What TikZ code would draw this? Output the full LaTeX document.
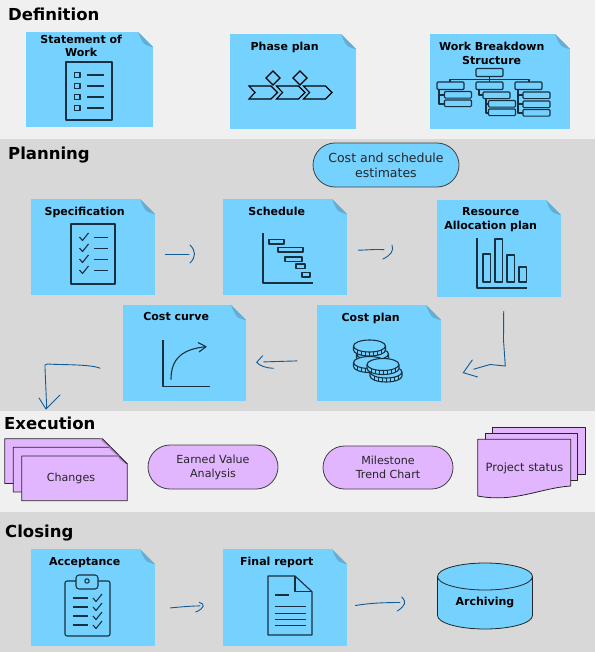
\documentclass[tikz,border=0pt]{standalone}
\usepackage{fontspec}
\setmainfont{DejaVu Sans}
\usetikzlibrary{positioning, shapes.misc, shapes.geometric}

\definecolor{bandlight}{HTML}{F0F0F0}
\definecolor{banddark}{HTML}{D8D8D8}
\definecolor{noteblue}{HTML}{75D2FF}
\definecolor{foldblue}{HTML}{62AED4}
\definecolor{pagelilac}{HTML}{E2B5FF}
\definecolor{foldlilac}{HTML}{A77FC0}
\definecolor{iconink}{HTML}{17303F}
\definecolor{penblue}{HTML}{0F5C99}

\tikzset{
    notebox/.style={
        anchor=north west,
        rectangle,
        inner sep=0pt,
        fill=noteblue,
        path picture={
            \fill[#1] ([xshift=-15pt]path picture bounding box.north east) -- (path picture bounding box.north east) -- ([yshift=-15pt]path picture bounding box.north east) -- cycle;
            \fill[foldblue] ([xshift=-15pt]path picture bounding box.north east) -- ([yshift=-15pt]path picture bounding box.north east) -- ([shift={(-4pt,-14pt)}]path picture bounding box.north east) .. controls ([shift={(-10pt,-13pt)}]path picture bounding box.north east) and ([shift={(-12pt,-8pt)}]path picture bounding box.north east) .. cycle;
        }
    },
    notebox/.default=bandlight,
    notetitle/.style={font=\bfseries\fontsize{11}{13.5}\selectfont, align=center, anchor=north, inner sep=0pt, xshift=-8.5pt, text=black},
    heading/.style={font=\bfseries\fontsize{16.5}{18}\selectfont, anchor=base west, inner sep=0pt},
    pill/.style={rounded rectangle, draw=black!75, line width=0.8pt, align=center, inner sep=0pt, font=\fontsize{11.1}{14}\selectfont, text=black!85},
    iconline/.style={draw=iconink, line width=1.1pt, line join=round},
    pagepath/.style={draw=black!85, fill=pagelilac, line width=0.8pt, line join=round},
    penline/.style={draw=penblue, line width=0.9pt, line cap=round}
}
\newcommand{\coinicon}[2]{%
  \begin{scope}[shift={(#1,#2)}]
    \fill[noteblue] (-16,0) -- (-16,4) arc[start angle=180,end angle=0,x radius=16,y radius=6] -- (16,0) -- cycle;
    \draw[iconline] (-16,0) -- (-16,4) arc[start angle=180,end angle=0,x radius=16,y radius=6] -- (16,0);
    \draw[iconline, fill=noteblue] (0,0) ellipse[x radius=16,y radius=6];
    \foreach \tx in {-12,-8,-4,0,4,8,12} {
      \pgfmathsetmacro{\ty}{6*sqrt(1-(\tx/16)*(\tx/16))}
      \draw[iconink, line width=0.7pt] (\tx,\ty) -- (\tx,\ty+4);
    }
  \end{scope}}

\begin{document}
\begin{tikzpicture}[x=1pt, y=-1pt]
    \useasboundingbox (0,0) rectangle (595,652);

    % bands
    \fill[bandlight] (0,0) rectangle (595,139);
    \fill[banddark] (0,139) rectangle (595,411);
    \fill[bandlight] (0,411) rectangle (595,512);
    \fill[banddark] (0,512) rectangle (595,652);

    \node[heading] (definition) at (8,21) {Definition};
    \node[heading] (planning) at (8,160) {Planning};
    \node[heading] (execution) at (4,429) {Execution};
    \node[heading] (closing) at (5,537) {Closing};

    % definition
    \node[notebox, minimum width=127, minimum height=95, label={[notetitle, yshift=-2.5pt]north:Statement of\\Work}] (sow) at (26,32) {};
    \node[notebox, minimum width=126, minimum height=95, label={[notetitle, yshift=-7.5pt]north:Phase plan}] (phase) at (230,34) {};
    \node[notebox, minimum width=140, minimum height=95, label={[notetitle, yshift=-8pt]north:Work Breakdown\\Structure}] (wbs) at (430,34) {};

    % planning
    \node[pill, fill=noteblue, minimum width=146, minimum height=44, font=\fontsize{12.5}{15}\selectfont] (estimates) at (386,165) {Cost and schedule\\estimates};
    \node[notebox=banddark, minimum width=124, minimum height=96, label={[notetitle, yshift=-7.5pt]north:Specification}] (spec) at (31,199) {};
    \node[notebox=banddark, minimum width=124, minimum height=96, label={[notetitle, yshift=-7.5pt]north:Schedule}] (schedule) at (223,199) {};
    \node[notebox=banddark, minimum width=124, minimum height=97, label={[notetitle, yshift=-7.5pt]north:Resource\\Allocation plan}] (resource) at (437,200) {};
    \node[notebox=banddark, minimum width=124, minimum height=96, label={[notetitle, yshift=-7.5pt]north:Cost plan}] (costplan) at (317,305) {};
    \node[notebox=banddark, minimum width=123, minimum height=96, label={[notetitle, yshift=-7.5pt]north:Cost curve}] (costcurve) at (123,305) {};

    % execution
    \foreach \px/\py in {4.7/438.7, 13.3/447.3, 21.7/456} {
        \draw[pagepath] (\px,\py) -- ++(97.6,0) -- ++(8,8) -- ++(0,36.7) -- ++(-105.6,0) -- cycle;
        \draw[foldlilac, fill=foldlilac!80, line width=0.5pt] (\px+97.6,\py) -- ++(8,8) .. controls +(-3,-0.5) and +(-6,-2) .. cycle;
        \draw[black!85, line width=0.8pt] (\px+97.6,\py) -- ++(8,8);
    }
    \node[inner sep=0pt, font=\fontsize{11.1}{13}\selectfont, text=black!85] (changes) at (71,478) {Changes};
    \node[pill, fill=pagelilac, minimum width=130, minimum height=44] (earned) at (213,467) {Earned Value\\Analysis};
    \node[pill, fill=pagelilac, minimum width=130, minimum height=43] (milestone) at (388,467.5) {Milestone\\Trend Chart};
    \draw[pagepath] (492.7,427.3) -- (585.7,427.3) -- (585.7,474.3) -- (492.7,474.3) -- cycle;
    \draw[pagepath] (485.3,433.3) -- (577.7,433.3) -- (577.7,480.7) -- (485.3,480.7) -- cycle;
    \draw[pagepath] (477.7,439.3) -- (570.7,439.3) -- (570.7,486) .. controls (540,488) and (515,503) .. (477.7,496) -- cycle;
    \node[inner sep=0pt, font=\fontsize{11.4}{13}\selectfont, text=black!85] (status) at (524.5,468) {Project status};

    % closing
    \node[notebox=banddark, minimum width=124, minimum height=97, label={[notetitle, yshift=-8pt]north:Acceptance}] (accept) at (31,549) {};
    \node[notebox=banddark, minimum width=124, minimum height=97, label={[notetitle, yshift=-8pt]north:Final report}] (report) at (223,549) {};
    \node[cylinder, anchor=shape center, shape border rotate=90, aspect=0.46, draw=black!85, line width=0.8pt, fill=noteblue, cylinder uses custom fill, cylinder body fill=noteblue, cylinder end fill=noteblue, minimum width=95, minimum height=66, inner sep=0pt, font=\bfseries\fontsize{11}{13}\selectfont] (archive) at (485,596) {\raisebox{-6pt}{Archiving}};

    % icons
    \draw[iconline] (66,62) rectangle (112,120);
    \foreach \iy in {75,86,97,108} {
        \draw[iconline] (74.5,\iy-2.7) rectangle (80,\iy+2.7);
        \draw[iconline] (87,\iy) -- (104,\iy);
    }

    \draw[draw=black, line width=1.1pt, line join=miter]
        (273,71) -- (280,78) -- (273,85) -- (266,78) -- cycle
        (300,71) -- (307,78) -- (300,85) -- (293,78) -- cycle;
    \foreach \cx in {249,276.5,303.5}
        \draw[draw=black, line width=1.1pt] (\cx,86) -- ++(22,0) -- ++(6.5,6.5) -- ++(-6.5,6.5) -- ++(-22,0) -- ++(6,-6.5) -- cycle;

    \draw[iconline, rounded corners=1pt] (476,68.5) rectangle (503,76.5);
    \draw[iconline] (489.5,76.5) -- (489.5,82) (450,82) -- (450,79.5) -- (529,79.5) -- (529,82);
    \foreach \bx in {437,476,515}
        \draw[iconline, rounded corners=1pt] (\bx,82) rectangle ++(27,7.5);
    \draw[iconline] (439,89.5) -- (439,104) -- (444.5,104) (439,95) -- (444.5,95)
        (479,89.5) -- (479,95) -- (483,95) (486,98.7) -- (486,113) -- (488.5,113) (486,104) -- (488.5,104)
        (518,89.5) -- (518,113) -- (523,113) (518,95) -- (523,95) (518,104) -- (523,104);
    \foreach \bx/\by in {444.5/91.5,444.5/100,483/92,488.5/100.5,488.5/109,523/92,523/101,523/109.5}
        \draw[iconline, rounded corners=1pt, fill=noteblue] (\bx,\by) rectangle ++(27,6.7);

    \draw[iconline] (71,224) rectangle (115,284);
    \foreach \iy in {237,248,259,270} {
        \draw[iconline] (79.5,\iy) -- (82.5,\iy+3.5) -- (88.5,\iy-4);
        \draw[iconline] (94,\iy+0.5) -- (108,\iy+0.5);
    }

    \draw[iconline] (263,233) -- (263,283) -- (313,283);
    \foreach \bx/\by/\bw in {269/239.5/15, 278/247.5/25, 285/257/17, 296/264/9, 302/272.5/8}
        \draw[iconline] (\bx,\by) rectangle ++(\bw,4.5);

    \draw[iconline] (477,238) -- (477,288) -- (527,288);
    \foreach \bx/\by in {483/254, 495/239, 507/255, 519/267}
        \draw[iconline] (\bx,\by) rectangle (\bx+7.5,282);

    \coinicon{372.5}{354}
    \coinicon{369.5}{362.5}
    \coinicon{369.5}{346}
    \coinicon{386}{372}
    \coinicon{383}{364.5}

    \draw[iconline] (163,340) -- (163,386.7) -- (210,386.7);
    \draw[iconline] (171,379.5) .. controls (171,358) and (183,349) .. (206,346.7);
    \draw[iconline] (198,342.5) -- (206,346.7) -- (199,352);

    \draw[iconline, rounded corners=2pt] (65,581) rectangle (110,636);
    \draw[iconline, rounded corners=3pt, fill=noteblue] (76,589) -- (76,575) -- (98,575) -- (98,589) -- cycle;
    \draw[iconline] (87,581) circle[radius=2.2];
    \foreach \iy in {598,607,616,625} {
        \draw[iconline] (72.5,\iy) -- (88,\iy);
        \draw[iconline] (93,\iy) -- (96,\iy+3.5) -- (102,\iy-4);
    }

    \draw[iconline] (268,576) -- (295,576) -- (312,591.7) -- (312,635) -- (268,635) -- cycle;
    \draw[iconline] (295,576) -- (295,591.7) -- (312,591.7);
    \draw[iconline] (275,595) -- (289,595);
    \foreach \iy in {606.7,613.3,619.3,625.3}
        \draw[iconline] (275,\iy) -- (306,\iy);

    % connectors
    \coordinate (specout) at ([shift={(10,7)}]spec.east);
    \coordinate (schedin) at ([shift={(-34,7)}]schedule.west);
    \coordinate (schedout) at ([shift={(11,3)}]schedule.east);
    \coordinate (resin) at ([shift={(-53,1)}]resource.west);
    \coordinate (resout) at ([shift={(4.5,14)}]resource.south);
    \coordinate (costin) at ([shift={(32.3,16)}]costplan.east);
    \coordinate (costout) at ([shift={(-20,7.7)}]costplan.west);
    \coordinate (curvein) at ([shift={(17.3,8.7)}]costcurve.east);
    \coordinate (curveout) at ([shift={(-23,15)}]costcurve.west);
    \coordinate (execin) at ([shift={(42.7,-21)}]execution.base west);
    \coordinate (acceptout) at ([shift={(15,10.2)}]accept.east);
    \coordinate (reportin) at ([shift={(-23,8.2)}]report.west);
    \coordinate (reportout) at ([shift={(8,7.8)}]report.east);
    \coordinate (archivein) at ([shift={(-85,6.5)}]archive.shape center);

    \draw[penline] (specout) -- (schedin);
    \draw[penline] (190,245) .. controls (196,251) and (196,257) .. (190,263);
    \draw[penline] (schedout) .. controls (368,250) and (376,249) .. (resin);
    \draw[penline] (392,245) .. controls (394,251) and (391,255) .. (383,259);
    \draw[penline] (resout) -- (503.5,340) -- (505.3,366) -- (490,364.5) -- (costin);
    \draw[penline] (472.3,360) -- (463.3,372.7) -- (477.7,377);
    \draw[penline] (costout) -- (curvein);
    \draw[penline] (262.7,355.7) -- (256.7,362.3) .. controls (260,366) and (266,368) .. (273.3,368.3);
    \draw[penline] (curveout) .. controls (90,364) and (60,365) .. (48,364) .. controls (45,364) and (44,366) .. (45,368) -- (execin);
    \draw[penline] (39,398) -- (46,409) -- (60,395);
    \draw[penline] (acceptout) .. controls (180,607) and (190,606) .. (reportin);
    \draw[penline] (199.3,602.3) .. controls (205,604) and (205,608) .. (195.7,612);
    \draw[penline] (reportout) .. controls (370,603) and (385,602.5) .. (archivein);
    \draw[penline] (401.7,597) .. controls (407,602) and (405,606) .. (397.3,611);
\end{tikzpicture}
\end{document}
